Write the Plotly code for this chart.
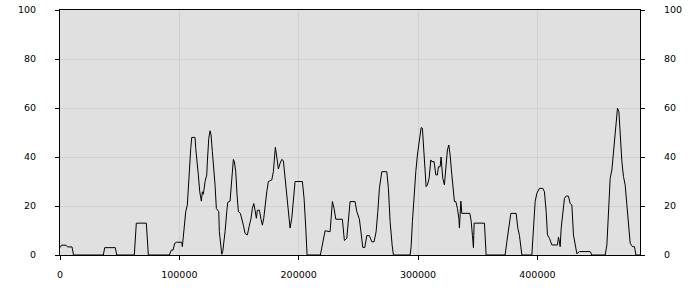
import plotly.graph_objects as go

x_pos = [0, 1257, 5029, 6287, 10058, 11316, 36294, 37468, 46353, 47527,
         62278, 63955, 72337, 74013, 91615, 93292, 94717, 96142, 97483, 102009,
         102512, 103937, 105362, 106703, 108128, 109553, 110391, 113157, 113744, 114582,
         115923, 117097, 118438, 119276, 120114, 121539, 122964, 123467, 124641, 125730,
         126568, 127658, 129083, 129921, 131011, 132184, 133022, 133525, 134699, 135537,
         136375, 137465, 138303, 139728, 140566, 142494, 143919, 145260, 146098, 147272,
         148361, 149451, 151128, 152301, 153642, 155067, 156995, 158420, 160096, 161186,
         162359, 163449, 164538, 165377, 167053, 168478, 169568, 170741, 171831, 173256,
         174597, 177447, 178788, 179626, 180464, 181638, 182979, 184404, 185829, 187170,
         188595, 190020, 191361, 192786, 194211, 195552, 196977, 203096, 204521, 205946,
         207035, 218184, 219357, 220699, 222123, 226314, 227152, 228242, 229667, 231092,
         236624, 237462, 238300, 240312, 241653, 243078, 247269, 248694, 250873, 252298,
         253723, 255399, 257076, 259255, 261267, 263195, 264871, 266296, 267637, 269649,
         273840, 275181, 276606, 278282, 279372, 293370, 294208, 295298, 296723, 298148,
         299489, 300914, 302590, 303680, 304518, 305943, 306781, 307871, 309296, 310721,
         311559, 313487, 314912, 316253, 317091, 318516, 319354, 319941, 320779, 322120,
         323293, 324634, 325808, 326898, 328323, 329664, 330502, 331675, 333016, 334190,
         334693, 335866, 336705, 343410, 344500, 345590, 346428, 347015, 355648, 357073,
         372999, 374424, 375765, 377776, 382219, 383644, 384985, 386158, 386997, 395379,
         396217, 397307, 398145, 399570, 401749, 404599, 405940, 407365, 408455, 410131,
         412143, 416837, 417675, 418513, 419100, 419938, 421363, 422704, 424129, 426057,
         427482, 428907, 430248, 431673, 433098, 435277, 444246, 445671, 456819, 458244,
         459585, 461010, 462435, 463776, 465201, 467129, 468302, 469392, 470817, 472158,
         473583, 475008, 476349, 477774, 479702, 481378, 482552, 486000]

values = [3, 4, 4, 3.3, 3.3, 0, 0, 3, 3, 0,
          0, 13, 13, 0, 0, 2, 2, 4.8, 5.2, 5.2,
          3.4, 9.5, 17.7, 20.4, 34, 43.5, 48, 48, 43.5, 38,
          32.7, 25.8, 22, 25.8, 24.8, 30, 32.7, 38, 47.6, 50.7,
          49, 42.2, 34, 28.6, 19, 18.3, 17.7, 9.5, 2.7, 0.3,
          1.4, 5.4, 9.5, 17.7, 21.5, 22, 31.3, 39, 38, 34,
          24.5, 17.7, 17, 15, 12.2, 8.8, 8.2, 11.5, 15, 19,
          21, 18.3, 15, 18.3, 18.3, 14.6, 12.2, 15, 20.4, 25.8,
          30, 30.6, 34, 39.5, 44, 40, 35.1, 37.4, 39, 38.5,
          32, 24.5, 17.7, 11, 15, 22, 30, 30, 23, 11,
          0, 0, 2.7, 6.8, 9.9, 9.5, 15, 21.8, 19, 14.6,
          14.6, 9.5, 5.9, 6.8, 13.6, 21.8, 21.8, 17.7, 14.6, 8.2,
          3.1, 3.1, 7.9, 7.9, 5.4, 5.4, 9.5, 17.7, 27.2, 34,
          34, 27.2, 13.6, 4.1, 0, 0, 3.4, 13.6, 25.8, 34,
          40.8, 47, 52, 51.7, 44.8, 36.7, 27.9, 28.6, 31.3, 38.8,
          38.1, 38.1, 32.7, 32.7, 36, 36, 40, 36, 31.3, 28.6,
          35.4, 42.9, 44.9, 40.8, 32.7, 24.5, 21.8, 21.8, 19, 15,
          11, 22, 17, 17, 14, 8, 3, 13, 13, 0,
          0, 5.4, 10.9, 17, 17, 10.9, 8, 3, 0, 0,
          5.4, 13.6, 21.8, 25.2, 27.2, 27.2, 25.8, 17.7, 8.2, 6.8,
          4.1, 4.1, 7.3, 5.4, 3.4, 10.9, 17.7, 23.1, 24.1, 24,
          21, 20.4, 8.2, 3.4, 0.5, 1.4, 1.4, 0, 0, 4.1,
          19, 31.3, 34.7, 41.5, 50.3, 59.9, 58.5, 48, 38.1, 32,
          28.6, 20.4, 10.9, 4.8, 3.4, 3.4, 0, 0]

x_ticks = [0, 100000, 200000, 300000, 400000]
y_ticks = [0, 20, 40, 60, 80, 100]

font = dict(family="DejaVu Sans", size=9.5, color="#000000")

fig = go.Figure()
fig.add_trace(go.Scatter(x=x_pos, y=values, mode="lines",
                         line=dict(color="#000000", width=1),
                         hoverinfo="skip", showlegend=False))
fig.add_trace(go.Scatter(x=x_pos, y=values, mode="lines", yaxis="y2",
                         line=dict(color="rgba(0,0,0,0)", width=0),
                         hoverinfo="skip", showlegend=False))

fig.update_layout(
    width=700, height=300,
    margin=dict(l=60, r=60, t=10, b=45, autoexpand=False),
    paper_bgcolor="#ffffff",
    plot_bgcolor="#e0e0e0",
    font=font,
    showlegend=False,
    xaxis=dict(range=[0, 486000], tickvals=x_ticks, ticktext=[str(v) for v in x_ticks],
               showgrid=True, gridcolor="#d0d0d0", gridwidth=1,
               showline=True, linecolor="#000000", linewidth=1, mirror=True,
               ticks="outside", ticklen=4, tickcolor="#000000", automargin=False,
               ticklabelstandoff=7, zeroline=False, tickfont=font),
    yaxis=dict(range=[0, 100], tickvals=y_ticks, ticktext=[str(v) for v in y_ticks],
               showgrid=True, gridcolor="#d0d0d0", gridwidth=1,
               showline=True, linecolor="#000000", linewidth=1, mirror=True,
               ticks="outside", ticklen=4, tickcolor="#000000", automargin=False,
               ticklabelstandoff=17, zeroline=False, tickfont=font),
    yaxis2=dict(range=[0, 100], tickvals=y_ticks, ticktext=[str(v) for v in y_ticks],
                overlaying="y", side="right", showgrid=False,
                showline=True, linecolor="#000000", linewidth=1,
                ticks="outside", ticklen=4, tickcolor="#000000", automargin=False,
                ticklabelstandoff=17, zeroline=False, tickfont=font),
)

fig.write_html("out.html")
